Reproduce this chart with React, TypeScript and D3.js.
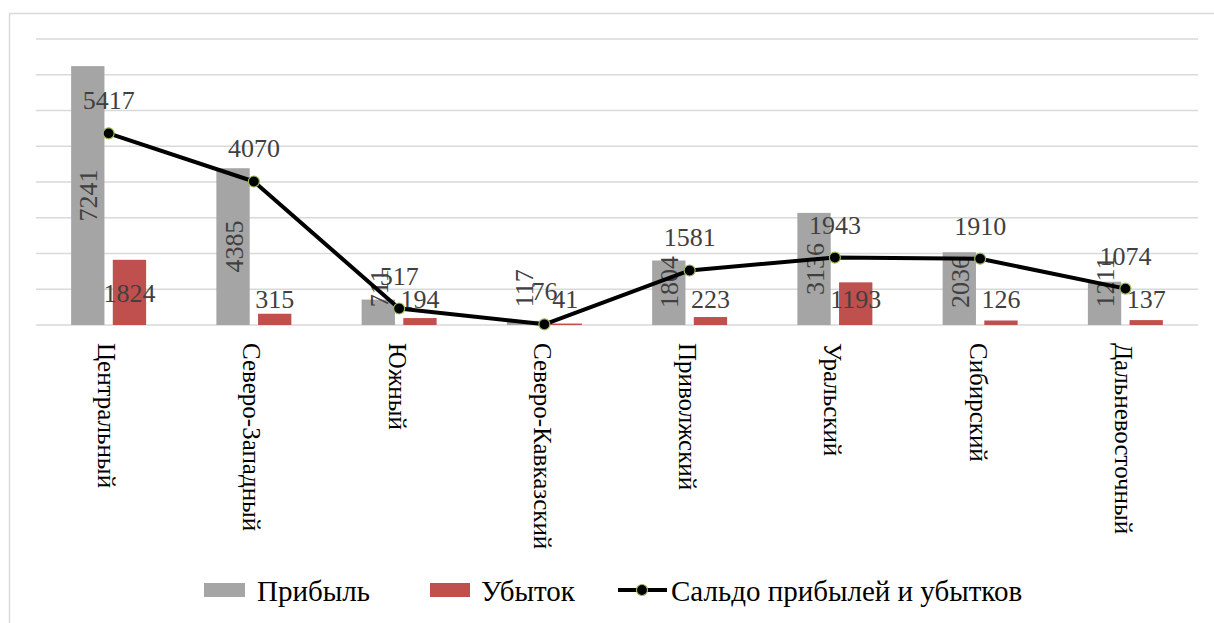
import * as d3 from "d3";
import React, { useRef, useEffect } from "react";

const categories = [
  "Центральный",
  "Северо-Западный",
  "Южный",
  "Северо-Кавказский",
  "Приволжский",
  "Уральский",
  "Сибирский",
  "Дальневосточный",
];
const profit = [7241, 4385, 711, 117, 1804, 3136, 2036, 1211];
const loss = [1824, 315, 194, 41, 223, 1193, 126, 137];
const balance = [5417, 4070, 517, 76, 1581, 1943, 1910, 1074];
const yTicks = [0, 1000, 2000, 3000, 4000, 5000, 6000, 7000, 8000];

const seriesNames = ["Прибыль", "Убыток", "Сальдо прибылей и убытков"];

const W = 1214;
const H = 623;
const FONT = "Liberation Serif, DejaVu Serif, Times New Roman, serif";
const GRAY = "#a5a5a5";
const RED = "#c0504d";
const LABEL = "#404040";

function Chart() {
  const ref = useRef<SVGSVGElement>(null);

  useEffect(() => {
    const svg = d3.select(ref.current);
    svg.selectAll("*").remove();
    draw(svg);
  }, []);

  const draw = (svg: any) => {
    const left = 36,
      right = 1198,
      top = 39,
      bottom = 325;

    // chart frame
    svg
      .append("path")
      .attr("d", `M9.5,${H} L9.5,13.5 L${W},13.5`)
      .attr("fill", "none")
      .attr("stroke", "#d9d9d9")
      .attr("stroke-width", 1.5);

    const x = d3.scaleBand().domain(categories).range([left, right]);
    const bw = x.bandwidth();
    const xSub = d3
      .scaleBand()
      .domain(["p", "l"])
      .range([bw / 2 - 37.5, bw / 2 + 37.5])
      .paddingInner(0.2);
    const y = d3.scaleLinear().domain([0, 8000]).range([bottom, top]);
    // secondary axis of the line sits a touch lower
    const y2 = d3.scaleLinear().domain([0, 8000]).range([bottom + 2, top + 2]);

    // grid
    svg
      .append("g")
      .selectAll("line")
      .data(yTicks)
      .enter()
      .append("line")
      .attr("x1", left)
      .attr("x2", right)
      .attr("y1", (d: number) => y(d))
      .attr("y2", (d: number) => y(d))
      .attr("stroke", "#d9d9d9")
      .attr("stroke-width", 1.5);

    const g = svg.append("g").style("font-family", FONT);

    // profit bars
    g.selectAll(".bp")
      .data(profit)
      .enter()
      .append("rect")
      .attr("x", (d: number, i: number) => x(categories[i])! + xSub("p")!)
      .attr("y", (d: number) => y(d))
      .attr("width", xSub.bandwidth())
      .attr("height", (d: number) => bottom - y(d))
      .attr("fill", GRAY);

    // loss bars
    g.selectAll(".bl")
      .data(loss)
      .enter()
      .append("rect")
      .attr("x", (d: number, i: number) => x(categories[i])! + xSub("l")!)
      .attr("y", (d: number) => y(d))
      .attr("width", xSub.bandwidth())
      .attr("height", (d: number) => bottom - y(d))
      .attr("fill", RED);

    // profit labels (rotated, kept inside plot)
    g.selectAll(".lp")
      .data(profit)
      .enter()
      .append("text")
      .attr("transform", (d: number, i: number) => {
        const cx = x(categories[i])! + xSub("p")! + xSub.bandwidth() / 2 + 1;
        const len = String(d).length * 12.5;
        const cy = Math.min((y(d) + bottom) / 2, bottom - 18 - len / 2);
        return `translate(${cx},${cy}) rotate(-90)`;
      })
      .attr("text-anchor", "middle")
      .attr("dominant-baseline", "central")
      .style("font-size", "26px")
      .attr("fill", LABEL)
      .text((d: number) => d);

    // loss labels
    g.selectAll(".ll")
      .data(loss)
      .enter()
      .append("text")
      .attr("x", (d: number, i: number) => x(categories[i])! + xSub("l")! + xSub.bandwidth() / 2)
      .attr("y", (d: number) => Math.min((y(d) + bottom) / 2 + 10, 308))
      .attr("text-anchor", "middle")
      .style("font-size", "26px")
      .attr("fill", LABEL)
      .text((d: number) => d);

    // balance line
    const line = d3
      .line<number>()
      .x((d, i) => x(categories[i])! + bw / 2)
      .y((d) => y2(d));

    g.append("path")
      .datum(balance)
      .attr("d", line)
      .attr("fill", "none")
      .attr("stroke", "#000")
      .attr("stroke-width", 4)
      .attr("stroke-linejoin", "round");

    g.selectAll(".dot")
      .data(balance)
      .enter()
      .append("circle")
      .attr("cx", (d: number, i: number) => x(categories[i])! + bw / 2)
      .attr("cy", (d: number) => y2(d))
      .attr("r", 5.5)
      .attr("fill", "#000")
      .attr("stroke", "#9bbb59")
      .attr("stroke-width", 1.2);

    g.selectAll(".lb")
      .data(balance)
      .enter()
      .append("text")
      .attr("x", (d: number, i: number) => x(categories[i])! + bw / 2)
      .attr("y", (d: number) => y2(d) - 24)
      .attr("text-anchor", "middle")
      .style("font-size", "26px")
      .attr("fill", LABEL)
      .text((d: number) => d);

    // category labels
    g.selectAll(".cat")
      .data(categories)
      .enter()
      .append("text")
      .attr("transform", (d: string) => `translate(${x(d)! + bw / 2 - 2},${bottom + 18}) rotate(90)`)
      .attr("dominant-baseline", "central")
      .style("font-size", "25px")
      .attr("fill", "#000")
      .text((d: string) => d);

    // legend
    const lg = svg.append("g").style("font-family", FONT).style("font-size", "29px").attr("fill", "#000");
    const ly = 590;
    lg.append("rect").attr("x", 204).attr("y", ly - 7).attr("width", 41).attr("height", 14).attr("fill", GRAY);
    lg.append("text").attr("x", 257).attr("y", ly + 11).text(seriesNames[0]);
    lg.append("rect").attr("x", 430).attr("y", ly - 7).attr("width", 40).attr("height", 14).attr("fill", RED);
    lg.append("text").attr("x", 481).attr("y", ly + 11).text(seriesNames[1]);
    lg.append("line")
      .attr("x1", 618)
      .attr("x2", 667)
      .attr("y1", ly)
      .attr("y2", ly)
      .attr("stroke", "#000")
      .attr("stroke-width", 4);
    lg.append("circle")
      .attr("cx", 642)
      .attr("cy", ly)
      .attr("r", 5.5)
      .attr("fill", "#000")
      .attr("stroke", "#9bbb59")
      .attr("stroke-width", 1.2);
    lg.append("text").attr("x", 671).attr("y", ly + 11).text(seriesNames[2]);
  };

  return (
    <svg
      ref={ref}
      width={W}
      height={H}
      style={{ position: "absolute", left: 0, top: 0, background: "#fff" }}
    ></svg>
  );
}

export default function App() {
  return <Chart />;
}
